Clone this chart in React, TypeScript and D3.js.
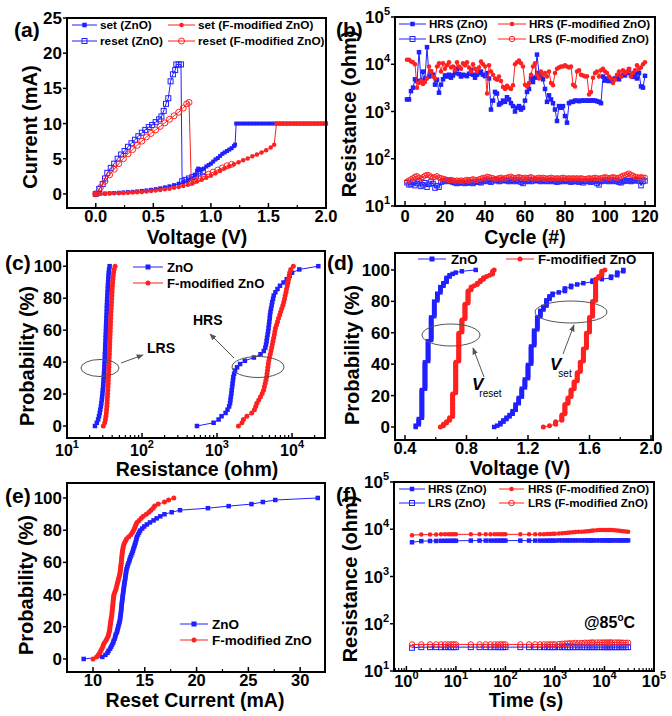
import React from 'react';
import * as d3 from 'd3';

const BLUE = '#2020ff';
const RED = '#ff2020';
const GRAY = '#555';
const FF = "'Liberation Sans', Arial, Helvetica, sans-serif";

type P = [number, number];
type Sc = (v: number) => number;

// ---------------- (a) I-V curves [V, mA] ----------------
const setZnO: P[] = [
  [0, 0], [0.04, 0.03], [0.08, 0.06], [0.12, 0.1], [0.16, 0.13], [0.2, 0.17], [0.24, 0.21], [0.28, 0.25], [0.32, 0.3], [0.36, 0.36],
  [0.4, 0.43], [0.44, 0.5], [0.48, 0.58], [0.52, 0.68], [0.56, 0.8], [0.6, 0.93], [0.64, 1.08], [0.68, 1.25], [0.72, 1.45], [0.76, 1.65],
  [0.8, 1.9], [0.83, 2.2], [0.86, 2.7], [0.88, 3.3], [0.89, 3.6], [0.9, 3.4], [0.92, 3.5], [0.94, 3.6], [0.96, 3.9], [0.98, 4.1],
  [1.0, 4.3], [1.02, 4.6], [1.04, 4.9], [1.06, 5.1], [1.08, 5.4], [1.1, 5.7], [1.12, 5.9], [1.14, 6.1], [1.16, 6.3], [1.18, 6.5],
  [1.2, 6.8], [1.21, 7.0], [1.22, 10], [1.25, 10], [1.28, 10], [1.31, 10], [1.34, 10], [1.37, 10], [1.4, 10], [1.43, 10],
  [1.46, 10], [1.49, 10], [1.52, 10], [1.55, 10], [1.58, 10], [1.61, 10], [1.64, 10], [1.67, 10], [1.7, 10], [1.73, 10],
  [1.76, 10], [1.79, 10], [1.82, 10], [1.85, 10], [1.88, 10], [1.91, 10], [1.94, 10], [1.97, 10], [2.0, 10],
];
const resetZnO: P[] = [
  [0, 0], [0.03, 0.7], [0.06, 1.4], [0.08, 2.2], [0.1, 3.0], [0.13, 3.7], [0.16, 4.3], [0.19, 5.0], [0.22, 5.6], [0.25, 6.1],
  [0.28, 6.7], [0.31, 7.2], [0.34, 7.7], [0.37, 8.2], [0.4, 8.7], [0.43, 9.1], [0.46, 9.5], [0.49, 9.8], [0.52, 10.2], [0.55, 10.6],
  [0.57, 11.0], [0.59, 11.8], [0.61, 12.8], [0.63, 13.6], [0.65, 16.0], [0.67, 17.0], [0.69, 17.6], [0.7, 18.4], [0.72, 18.4], [0.74, 18.4],
  [0.75, 1.8], [0.78, 2.0], [0.81, 2.2], [0.84, 2.4], [0.87, 2.6], [0.9, 2.9], [0.93, 3.1],
];
const setF: P[] = [
  [0, 0], [0.04, 0.02], [0.08, 0.04], [0.12, 0.06], [0.16, 0.08], [0.2, 0.1], [0.24, 0.13], [0.28, 0.16], [0.32, 0.2], [0.36, 0.24],
  [0.4, 0.29], [0.44, 0.35], [0.48, 0.41], [0.52, 0.48], [0.56, 0.56], [0.6, 0.65], [0.64, 0.75], [0.68, 0.86], [0.72, 0.98], [0.76, 1.12],
  [0.8, 1.3], [0.84, 1.5], [0.88, 1.75], [0.92, 2.0], [0.96, 2.3], [1.0, 2.6], [1.04, 2.95], [1.08, 3.3], [1.12, 3.65], [1.16, 3.95],
  [1.2, 4.2], [1.24, 4.5], [1.28, 4.8], [1.32, 5.05], [1.36, 5.35], [1.4, 5.6], [1.44, 5.9], [1.48, 6.2], [1.52, 6.6], [1.55, 7.0],
  [1.57, 10], [1.6, 10], [1.63, 10], [1.66, 10], [1.69, 10], [1.72, 10], [1.75, 10], [1.78, 10], [1.81, 10], [1.84, 10],
  [1.87, 10], [1.9, 10], [1.93, 10], [1.96, 10], [2.0, 10],
];
const resetF: P[] = [
  [0, 0], [0.04, 0.9], [0.08, 1.8], [0.12, 2.7], [0.16, 3.5], [0.2, 4.3], [0.24, 5.0], [0.28, 5.7], [0.32, 6.3], [0.36, 6.9],
  [0.4, 7.5], [0.44, 8.1], [0.48, 8.6], [0.52, 9.1], [0.56, 9.6], [0.6, 10.1], [0.64, 10.6], [0.68, 11.1], [0.72, 11.6], [0.76, 12.2],
  [0.79, 12.8], [0.81, 13.0], [0.83, 1.6], [0.86, 1.9], [0.9, 2.2], [0.94, 2.5], [0.98, 2.8], [1.02, 3.1], [1.06, 3.4], [1.1, 3.7],
  [1.14, 4.0], [1.18, 4.2],
];

// ---------------- (b) endurance, cycles 1..120 (ohm) ----------------
const cycles = d3.range(1, 121);
const hrsZnO = [
  1800, 1800, 2700, 3200, 4800, 4400, 18000, 4500, 7000, 5000,
  23000, 5500, 7000, 6000, 3700, 4700, 2500, 3700, 4800, 5800,
  5500, 6000, 5200, 5800, 6500, 8000, 6200, 5500, 6000, 5800,
  5600, 6300, 7500, 6000, 5200, 6000, 6500, 7000, 6000, 5600,
  6500, 5000, 1100, 1700, 2600, 2400, 1400, 1500, 1700, 1600,
  2000, 1800, 1500, 1300, 1000, 1200, 1300, 1100, 1200, 1700,
  2600, 3000, 5000, 4200, 5200, 16000, 6500, 5500, 4800, 3000,
  1600, 2200, 1800, 1500, 1100, 630, 1300, 1200, 1300, 800,
  580, 1500, 1600, 1600, 1700, 1700, 1650, 1700, 1700, 1700,
  1700, 1700, 1700, 1720, 1700, 1650, 1600, 1500, 5500, 4500,
  5000, 4400, 4800, 4600, 5000, 5200, 4800, 5600, 6000, 5800,
  6500, 7700, 5800, 5400, 6200, 5000, 6500, 3400, 3200, 5700,
];
const hrsF = [
  12500, 12500, 11500, 11000, 10000, 3200, 4000, 4500, 3800, 4200,
  5000, 9000, 7000, 5500, 5000, 9000, 10500, 7000, 10500, 8000,
  9500, 11000, 8500, 9000, 7500, 11000, 9000, 8000, 10500, 9500,
  11000, 8500, 7000, 10000, 8000, 7000, 8500, 11500, 10000, 9000,
  2400, 9500, 7000, 6000, 5000, 4700, 5500, 4400, 3300, 3000,
  3500, 3200, 3000, 3600, 10000, 11000, 12000, 10500, 9000, 3700,
  3400, 4000, 6000, 9000, 10500, 6000, 5000, 7000, 6000, 6500,
  5500, 7000, 4000, 3600, 6500, 8000, 8500, 9000, 9000, 9500,
  9000, 8500, 9000, 3700, 3400, 7000, 7500, 6000, 5800, 5500,
  5600, 2300, 2600, 5200, 6500, 7000, 5500, 7500, 8000, 7000,
  6500, 5500, 5000, 4000, 4700, 6000, 7000, 5500, 7500, 6500,
  7000, 8000, 5500, 6500, 7500, 9500, 8000, 8500, 10000, 11000,
];
const lrsZnO = [
  31, 28, 29, 32, 27, 30, 34, 26, 28, 31,
  25, 29, 33, 30, 24, 27, 25, 32, 34, 33,
  35, 34, 33, 32, 31, 30, 31, 32, 31, 30,
  31, 32, 31, 30, 32, 33, 32, 31, 33, 34,
  35, 33, 32, 34, 36, 35, 33, 34, 36, 35,
  34, 33, 35, 34, 33, 35, 34, 32, 30, 33,
  34, 35, 33, 34, 36, 35, 34, 33, 35, 34,
  33, 34, 35, 33, 34, 32, 33, 34, 33, 35,
  34, 33, 32, 33, 34, 33, 32, 33, 31, 33,
  34, 33, 32, 33, 34, 30, 28, 33, 34, 35,
  34, 33, 35, 34, 33, 34, 32, 31, 33, 34,
  35, 34, 33, 35, 34, 36, 34, 27, 33, 34,
];
const lrsF = [
  33, 35, 37, 39, 42, 43, 40, 38, 41, 44,
  46, 45, 42, 40, 41, 43, 40, 39, 38, 37,
  36, 35, 36, 35, 34, 35, 34, 35, 34, 35,
  36, 35, 36, 37, 36, 35, 37, 38, 40, 39,
  42, 41, 40, 39, 37, 38, 39, 40, 38, 39,
  40, 41, 42, 40, 39, 40, 41, 40, 39, 40,
  39, 40, 41, 39, 38, 39, 40, 39, 40, 39,
  38, 39, 40, 39, 38, 39, 38, 39, 40, 39,
  38, 39, 38, 39, 38, 39, 38, 39, 38, 37,
  38, 39, 38, 39, 40, 39, 38, 39, 40, 41,
  40, 39, 40, 41, 40, 39, 40, 42, 44, 45,
  47, 49, 46, 44, 42, 41, 40, 41, 40, 40,
];

// ---------------- (c) resistance distribution (sorted, ohm) ----------------
const cLrsZnO = [
  23.6, 25.0, 26.0, 26.7, 27.3, 27.8, 28.3, 28.7, 29.1, 29.4, 29.7, 30.0, 30.3, 30.5, 30.7, 30.9, 31.1, 31.3, 31.5, 31.6,
  31.8, 31.9, 32.0, 32.2, 32.3, 32.4, 32.6, 32.7, 32.8, 33.0, 33.1, 33.2, 33.4, 33.5, 33.6, 33.8, 33.9, 34.0, 34.2, 34.3,
  34.5, 34.7, 34.9, 35.1, 35.3, 35.5, 35.7, 36.0, 36.4, 37.0,
];
const cLrsF = [
  30.5, 31.8, 32.5, 33.0, 33.4, 33.7, 34.0, 34.2, 34.4, 34.6, 34.8, 35.0, 35.2, 35.4, 35.5, 35.7, 35.8, 36.0, 36.1, 36.3,
  36.4, 36.5, 36.7, 36.8, 37.0, 37.1, 37.2, 37.4, 37.5, 37.7, 37.8, 38.0, 38.1, 38.3, 38.4, 38.6, 38.8, 39.0, 39.2, 39.4,
  39.6, 39.8, 40.0, 40.3, 40.6, 40.9, 41.3, 41.8, 42.5, 43.7,
];
const cHrsZnO = [
  540, 900, 1050, 1150, 1300, 1380, 1450, 1490, 1510, 1530, 1555, 1570, 1590, 1610, 1630, 1650, 1690, 1740, 1850, 2030,
  2350, 3100, 3800, 4200, 4400, 4500, 4580, 4640, 4720, 4800, 4860, 4920, 4980, 5040, 5080, 5150, 5250, 5350, 5450, 5580,
  5700, 6000, 6400, 6900, 7700, 8500, 9300, 10000, 12500, 22400,
];
const cHrsF = [
  1930, 2150, 2250, 2500, 2900, 3150, 3280, 3400, 3600, 3800, 4000, 4170, 4280, 4380, 4480, 4580, 4640, 4700, 4760, 4820,
  4900, 5000, 5120, 5240, 5350, 5450, 5560, 5680, 5800, 5900, 6000, 6200, 6400, 6600, 6850, 7050, 7300, 7550, 7750, 7950,
  8100, 8300, 8450, 8650, 8850, 9000, 9150, 9300, 9600, 10400,
];

// ---------------- (d) switching voltages: [V, number of cycles] ----------------
const vResetZnO: P[] = [[0.47, 2], [0.49, 5], [0.51, 22], [0.53, 21], [0.55, 16], [0.57, 18], [0.59, 12], [0.61, 6], [0.63, 5], [0.65, 3], [0.67, 4], [0.69, 2], [0.71, 1], [0.73, 1], [0.77, 1], [0.86, 1]];
const vResetF: P[] = [[0.63, 1], [0.65, 2], [0.67, 2], [0.69, 3], [0.71, 18], [0.73, 24], [0.75, 22], [0.77, 10], [0.79, 12], [0.81, 10], [0.83, 3], [0.85, 1], [0.87, 2], [0.89, 2], [0.91, 2], [0.93, 1], [0.95, 1], [0.97, 3], [0.98, 1]];
const vSetZnO: P[] = [[0.98, 1], [1.0, 1], [1.02, 2], [1.04, 2], [1.06, 2], [1.08, 2], [1.1, 3], [1.12, 5], [1.14, 5], [1.16, 7], [1.18, 7], [1.2, 11], [1.22, 14], [1.24, 12], [1.26, 10], [1.28, 5], [1.3, 3], [1.32, 5], [1.34, 3], [1.36, 2], [1.4, 1], [1.44, 3], [1.48, 2], [1.52, 1], [1.56, 1], [1.62, 2], [1.68, 1], [1.74, 2], [1.78, 3], [1.82, 2]];
const vSetF: P[] = [[1.3, 1], [1.34, 1], [1.38, 3], [1.42, 5], [1.44, 8], [1.46, 5], [1.48, 6], [1.5, 6], [1.52, 7], [1.54, 8], [1.56, 10], [1.58, 12], [1.6, 12], [1.62, 12], [1.64, 17], [1.66, 2], [1.68, 4], [1.7, 1]];

// ---------------- (e) reset current (sorted, mA) ----------------
const iResetZnO = [
  9.1, 10.9, 11.2, 11.4, 11.5, 11.65, 11.75, 11.85, 11.95, 12.0, 12.1, 12.15, 12.2, 12.3, 12.35, 12.4, 12.45, 12.5, 12.55, 12.6,
  12.62, 12.65, 12.68, 12.7, 12.72, 12.74, 12.76, 12.78, 12.8, 12.83, 12.85, 12.87, 12.9, 12.92, 12.95, 12.98, 13.0, 13.03, 13.06, 13.1,
  13.12, 13.15, 13.18, 13.2, 13.24, 13.3, 13.35, 13.42, 13.5, 13.55, 13.62, 13.7, 13.78, 13.85, 13.9, 13.97, 14.03, 14.1, 14.15, 14.2,
  14.25, 14.35, 14.45, 14.55, 14.75, 14.95, 15.2, 15.5, 15.85, 16.15, 16.5, 16.9, 17.6, 18.4, 21.1, 23.1, 25.3, 26.4, 27.6, 31.7,
];
const iResetF = [
  10.0, 10.35, 10.5, 10.65, 10.75, 10.85, 10.95, 11.0, 11.1, 11.25, 11.35, 11.45, 11.5, 11.55, 11.6, 11.62, 11.65, 11.68, 11.7, 11.73,
  11.76, 11.8, 11.82, 11.84, 11.86, 11.88, 11.9, 11.92, 11.94, 11.96, 11.98, 12.0, 12.05, 12.12, 12.2, 12.25, 12.3, 12.35, 12.4, 12.45,
  12.5, 12.55, 12.6, 12.63, 12.65, 12.67, 12.7, 12.72, 12.74, 12.76, 12.78, 12.8, 12.82, 12.85, 12.88, 12.92, 12.97, 13.05, 13.15, 13.25,
  13.45, 13.65, 13.8, 13.9, 14.0, 14.08, 14.15, 14.25, 14.45, 14.65, 14.85, 15.15, 15.4, 15.6, 15.8, 15.95, 16.3, 16.9, 17.3, 17.8,
];

// ---------------- (f) retention @85C ----------------
const times = [
  1.3, 2, 3, 4, 5, 6, 7, 8, 9, 10,
  20, 30, 40, 50, 60, 70, 80, 90, 100,
  200, 300, 400, 500, 600, 700, 800, 900, 1000,
  1200, 1400, 1600, 1800, 2000, 2300, 2600, 3000, 3500, 4000,
  4500, 5000, 5500, 6000, 7000, 8000, 9000, 10000, 11000, 12000,
  13000, 14000, 16000, 18000, 20000, 22000, 24000, 27000, 30000,
];
const retHrsZnO = [
  5300, 5600, 5650, 5650, 5700, 5700, 5700, 5700, 5700, 5700,
  5750, 5750, 5750, 5750, 5750, 5750, 5750, 5750, 5750,
  5750, 5750, 5750, 5750, 5750, 5750, 5750, 5750, 5750,
  5800, 5800, 5800, 5800, 5800, 5800, 5800, 5800, 5800, 5800,
  5800, 5800, 5800, 5800, 5800, 5800, 5800, 5800, 5800, 5800,
  5800, 5800, 5800, 5800, 5800, 5800, 5800, 5800, 5800,
];
const retHrsF = [
  7500, 7700, 7700, 7700, 7800, 7800, 7800, 7800, 7800, 7800,
  7800, 7800, 7800, 7800, 7800, 7800, 7800, 7800, 7800,
  7800, 7800, 7800, 7800, 7800, 7900, 7900, 8000, 8000,
  8100, 8200, 8300, 8400, 8500, 8600, 8700, 8800, 8900, 9000,
  9100, 9200, 9300, 9400, 9500, 9600, 9700, 9700, 9700, 9700,
  9600, 9600, 9500, 9400, 9300, 9200, 9100, 9000, 8900,
];
const retLrsZnO = [
  31, 32, 32, 32, 32, 32, 32, 32, 32, 32,
  32, 32, 32, 32, 32, 32, 32, 32, 32,
  32, 32, 32, 32, 32, 32, 32, 32, 32,
  32, 32, 32, 32, 32, 32, 32, 32, 32, 32,
  32, 32, 32, 32, 32, 32, 32, 32, 32, 32,
  32, 32, 32, 32, 32, 32, 32, 32, 32,
];
const retLrsF = [
  36.5, 36.5, 36.5, 36.5, 36.5, 36.5, 36.5, 36.5, 36.5, 36.5,
  36.5, 36.5, 36.5, 36.5, 36.5, 36.5, 36.5, 36.5, 36.5,
  36.5, 36.5, 36.5, 36.5, 36.5, 36.5, 36.5, 36.5, 36.5,
  37, 37.5, 38, 38, 38.5, 38.5, 39, 39, 39, 39.5,
  39.5, 39.5, 40, 40, 40, 40, 40, 40, 40, 40,
  40, 40, 40, 40, 40, 39.5, 39.5, 39.5, 39.5,
];

// ---------------- helpers ----------------
const zipXY = (xs: number[], ys: number[]): P[] => xs.map((x, i) => [x, ys[i]] as P);
const cdf = (vals: number[]): P[] => vals.map((v, i) => [v, (i / (vals.length - 1)) * 100] as P);
const expand = (rl: P[]): number[] => rl.flatMap(([v, n]) => Array(n).fill(v));

function Marker({ k, x, y, c, s }: { k: string; x: number; y: number; c: string; s: number }) {
  if (k === 'sq') return <rect x={x - s / 2} y={y - s / 2} width={s} height={s} fill={c} />;
  if (k === 'osq') return <rect x={x - s / 2} y={y - s / 2} width={s} height={s} fill="none" stroke={c} strokeWidth={1} />;
  if (k === 'ci') return <circle cx={x} cy={y} r={s / 2} fill={c} />;
  return <circle cx={x} cy={y} r={s / 2} fill="none" stroke={c} strokeWidth={1} />;
}

function Series({ pts, xs, ys, c, k, s }: { pts: P[]; xs: Sc; ys: Sc; c: string; k: string; s: number }) {
  const line = d3.line<P>().x((d) => xs(d[0])).y((d) => ys(d[1]));
  return (
    <g>
      <path d={line(pts) || ''} fill="none" stroke={c} strokeWidth={1} />
      {pts.map((p, i) => (
        <Marker key={i} k={k} x={xs(p[0])} y={ys(p[1])} c={c} s={s} />
      ))}
    </g>
  );
}

function Frame({ x0, x1, y0, y1 }: { x0: number; x1: number; y0: number; y1: number }) {
  return <rect x={x0} y={y0} width={x1 - x0} height={y1 - y0} fill="none" stroke="#000" strokeWidth={2} />;
}

function sup10(e: number) {
  return (
    <>
      10<tspan dy={-8} fontSize={11}>{e}</tspan>
    </>
  );
}

function XAxis({ xs, y, major, minor, label, ly, fs = 17 }: { xs: Sc; y: number; major: number[]; minor: number[]; label: (v: number) => any; ly: number; fs?: number }) {
  return (
    <g>
      {major.map((t, i) => (
        <line key={'M' + i} x1={xs(t)} x2={xs(t)} y1={y} y2={y - 5} stroke="#000" strokeWidth={1.5} />
      ))}
      {minor.map((t, i) => (
        <line key={'m' + i} x1={xs(t)} x2={xs(t)} y1={y} y2={y - 3} stroke="#000" strokeWidth={1.2} />
      ))}
      {major.map((t, i) => (
        <text key={'L' + i} x={xs(t)} y={ly} textAnchor="middle" fontSize={fs} fontWeight="bold">
          {label(t)}
        </text>
      ))}
    </g>
  );
}

function YAxis({ ys, x, major, label }: { ys: Sc; x: number; major: number[]; label: (v: number) => any }) {
  return (
    <g>
      {major.map((t, i) => (
        <line key={'M' + i} x1={x} x2={x - 4} y1={ys(t)} y2={ys(t)} stroke="#000" strokeWidth={1.5} />
      ))}
      {major.map((t, i) => (
        <text key={'L' + i} x={x - 5} y={ys(t) + 6} textAnchor="end" fontSize={17} fontWeight="bold">
          {label(t)}
        </text>
      ))}
    </g>
  );
}

function YTitle({ x, y, text }: { x: number; y: number; text: string }) {
  return (
    <text transform={`translate(${x},${y}) rotate(-90)`} textAnchor="middle" dy="0.36em" fontSize={20} fontWeight="bold">
      {text}
    </text>
  );
}

function XTitle({ x, y, text }: { x: number; y: number; text: string }) {
  return (
    <text x={x} y={y} textAnchor="middle" fontSize={19.5} fontWeight="bold">
      {text}
    </text>
  );
}

function LegendItem({ x1, x2, tx, y, c, k, s, text, fs }: { x1: number; x2: number; tx: number; y: number; c: string; k: string; s: number; text: string; fs: number }) {
  return (
    <g>
      <line x1={x1} x2={x2} y1={y} y2={y} stroke={c} strokeWidth={1} />
      <Marker k={k} x={(x1 + x2) / 2} y={y} c={c} s={s} />
      <text x={tx} y={y + fs * 0.36} fontSize={fs} fontWeight="bold">
        {text}
      </text>
    </g>
  );
}

function PanelLabel({ x, y, t }: { x: number; y: number; t: string }) {
  return (
    <text x={x} y={y} fontSize={21} fontWeight="bold">
      {t}
    </text>
  );
}

function logMinor(lo: number, hi: number): number[] {
  const out: number[] = [];
  for (let e = Math.floor(Math.log10(lo)); e <= Math.ceil(Math.log10(hi)); e++) {
    for (let m = 2; m <= 9; m++) {
      const v = m * Math.pow(10, e);
      if (v > lo && v < hi) out.push(v);
    }
  }
  return out;
}

export default function App() {
  // scales
  const ax = d3.scaleLinear().domain([-0.25, 2.0]).range([67, 326]);
  const ay = d3.scaleLinear().domain([-2, 25]).range([208, 18]);

  const bx = d3.scaleLinear().domain([-5, 125]).range([395, 655]);
  const by = d3.scaleLog().domain([10, 1e5]).range([206, 17]);

  const cx = d3.scaleLog().domain([10, 27500]).range([67, 325]);
  const cy = d3.scaleLinear().domain([-7.5, 109.5]).range([438, 251]);

  const dx = d3.scaleLinear().domain([0.335, 2.013]).range([395, 653]);
  const dy = d3.scaleLinear().domain([-8.3, 110.8]).range([440, 253]);

  const ex = d3.scaleLinear().domain([7.49, 32.4]).range([67, 325]);
  const ey = d3.scaleLinear().domain([-8.1, 109.3]).range([672, 483]);

  const fx = d3.scaleLog().domain([Math.pow(10, -0.25), 1e5]).range([394, 654]);
  const fy = d3.scaleLog().domain([10, 1e5]).range([671, 482]);

  const pct = [0, 20, 40, 60, 80, 100];
  const lg = (v: number) => sup10(Math.round(Math.log10(v)));

  return (
    <svg
      width={672}
      height={716}
      viewBox="0 0 672 716"
      style={{ position: 'absolute', left: 0, top: 0, background: '#fff', fontFamily: FF }}
    >
      <defs>
        <marker id="ah" viewBox="0 0 10 10" refX="9" refY="5" markerWidth="7" markerHeight="7" orient="auto-start-reverse">
          <path d="M0,1 L10,5 L0,9 z" fill={GRAY} />
        </marker>
      </defs>
      <rect x={0} y={0} width={672} height={716} fill="#fff" />

      {/* ================= (a) ================= */}
      <g>
        <Series pts={setZnO} xs={ax} ys={ay} c={BLUE} k="sq" s={4} />
        <Series pts={resetZnO} xs={ax} ys={ay} c={BLUE} k="osq" s={5} />
        <Series pts={setF} xs={ax} ys={ay} c={RED} k="ci" s={4.5} />
        <Series pts={resetF} xs={ax} ys={ay} c={RED} k="oci" s={6} />
        <Frame x0={67} x1={326} y0={18} y1={208} />
        <XAxis xs={ax} y={208} major={[0, 0.5, 1, 1.5, 2]} minor={[0.25, 0.75, 1.25, 1.75]} label={(v) => v.toFixed(1)} ly={222} fs={16.5} />
        <YAxis ys={ay} x={67} major={[0, 5, 10, 15, 20, 25]} label={(v) => String(v)} />
        <LegendItem x1={72} x2={97} tx={100} y={25} c={BLUE} k="sq" s={4.5} text="set (ZnO)" fs={11.8} />
        <LegendItem x1={72} x2={97} tx={100} y={41} c={BLUE} k="osq" s={5} text="reset (ZnO)" fs={11.8} />
        <LegendItem x1={168} x2={195} tx={198} y={25} c={RED} k="ci" s={4.5} text="set (F-modified ZnO)" fs={11.8} />
        <LegendItem x1={168} x2={195} tx={198} y={41} c={RED} k="oci" s={6} text="reset (F-modified ZnO)" fs={11.8} />
        <YTitle x={30} y={127} text="Current (mA)" />
        <XTitle x={197} y={244} text="Voltage (V)" />
        <PanelLabel x={14} y={37} t="(a)" />
      </g>

      {/* ================= (b) ================= */}
      <g>
        <Series pts={zipXY(cycles, hrsZnO)} xs={bx} ys={by} c={BLUE} k="sq" s={4.5} />
        <Series pts={zipXY(cycles, hrsF)} xs={bx} ys={by} c={RED} k="ci" s={4.5} />
        <Series pts={zipXY(cycles, lrsZnO)} xs={bx} ys={by} c={BLUE} k="osq" s={4.5} />
        <Series pts={zipXY(cycles, lrsF)} xs={bx} ys={by} c={RED} k="oci" s={5} />
        <Frame x0={395} x1={655} y0={17} y1={206} />
        <XAxis xs={bx} y={206} major={[0, 20, 40, 60, 80, 100, 120]} minor={[10, 30, 50, 70, 90, 110]} label={(v) => String(v)} ly={222} fs={16.5} />
        <YAxis ys={by} x={395} major={[10, 100, 1000, 10000, 100000]} label={lg} />
        <LegendItem x1={399} x2={426} tx={429} y={24} c={BLUE} k="sq" s={4.5} text="HRS (ZnO)" fs={11.6} />
        <LegendItem x1={399} x2={426} tx={429} y={39} c={BLUE} k="osq" s={5} text="LRS (ZnO)" fs={11.6} />
        <LegendItem x1={498} x2={526} tx={529} y={24} c={RED} k="ci" s={4.5} text="HRS (F-modified ZnO)" fs={11.6} />
        <LegendItem x1={498} x2={526} tx={529} y={39} c={RED} k="oci" s={5.5} text="LRS (F-modified ZnO)" fs={11.6} />
        <YTitle x={349} y={114} text="Resistance (ohm)" />
        <XTitle x={525} y={244} text="Cycle (#)" />
        <PanelLabel x={336} y={37} t="(b)" />
      </g>

      {/* ================= (c) ================= */}
      <g>
        <Series pts={cdf(cLrsZnO)} xs={cx} ys={cy} c={BLUE} k="sq" s={4.5} />
        <Series pts={cdf(cHrsZnO)} xs={cx} ys={cy} c={BLUE} k="sq" s={4.5} />
        <Series pts={cdf(cLrsF)} xs={cx} ys={cy} c={RED} k="ci" s={5} />
        <Series pts={cdf(cHrsF)} xs={cx} ys={cy} c={RED} k="ci" s={5} />
        <Frame x0={67} x1={325} y0={251} y1={438} />
        <XAxis xs={cx} y={438} major={[10, 100, 1000, 10000]} minor={logMinor(10, 27500)} label={lg} ly={456} fs={16} />
        <YAxis ys={cy} x={67} major={pct} label={(v) => String(v)} />
        <LegendItem x1={133} x2={163} tx={167} y={267} c={BLUE} k="sq" s={5} text="ZnO" fs={13.2} />
        <LegendItem x1={133} x2={163} tx={167} y={283} c={RED} k="ci" s={5} text="F-modified ZnO" fs={13.2} />
        <ellipse cx={100} cy={368} rx={19} ry={8.5} fill="none" stroke={GRAY} strokeWidth={1} />
        <line x1={121} y1={363} x2={143} y2={355} stroke={GRAY} strokeWidth={1} markerEnd="url(#ah)" />
        <text x={147} y={353} fontSize={14} fontWeight="bold">LRS</text>
        <ellipse cx={258} cy={367} rx={26} ry={10.5} fill="none" stroke={GRAY} strokeWidth={1} />
        <line x1={234} y1={358} x2={210} y2={334} stroke={GRAY} strokeWidth={1} markerEnd="url(#ah)" />
        <text x={193} y={325} fontSize={14} fontWeight="bold">HRS</text>
        <YTitle x={27} y={356} text="Probability (%)" />
        <XTitle x={197} y={476} text="Resistance (ohm)" />
        <PanelLabel x={5} y={270} t="(c)" />
      </g>

      {/* ================= (d) ================= */}
      <g>
        <Series pts={cdf(expand(vResetZnO))} xs={dx} ys={dy} c={BLUE} k="sq" s={4.5} />
        <Series pts={cdf(expand(vSetZnO))} xs={dx} ys={dy} c={BLUE} k="sq" s={4.5} />
        <Series pts={cdf(expand(vResetF))} xs={dx} ys={dy} c={RED} k="ci" s={5} />
        <Series pts={cdf(expand(vSetF))} xs={dx} ys={dy} c={RED} k="ci" s={5} />
        <Frame x0={395} x1={653} y0={253} y1={440} />
        <XAxis xs={dx} y={440} major={[0.4, 0.8, 1.2, 1.6, 2.0]} minor={[0.6, 1.0, 1.4, 1.8]} label={(v) => v.toFixed(1)} ly={454} fs={16.5} />
        <YAxis ys={dy} x={395} major={pct} label={(v) => String(v)} />
        <LegendItem x1={418} x2={446} tx={451} y={259} c={BLUE} k="sq" s={5} text="ZnO" fs={13.3} />
        <LegendItem x1={506} x2={534} tx={538} y={259} c={RED} k="ci" s={5} text="F-modified ZnO" fs={13.3} />
        <ellipse cx={451} cy={335} rx={29} ry={11} fill="none" stroke={GRAY} strokeWidth={1} />
        <line x1={484} y1={377} x2={473} y2={348} stroke={GRAY} strokeWidth={1} markerEnd="url(#ah)" />
        <text x={472} y={390} fontSize={17} fontWeight="bold" fontStyle="italic">
          V<tspan dx={-4} dy={7} fontSize={10} fontWeight="normal" fontStyle="normal">reset</tspan>
        </text>
        <ellipse cx={571} cy={312} rx={36} ry={11} fill="none" stroke={GRAY} strokeWidth={1} />
        <line x1={563} y1={354} x2={574} y2={325} stroke={GRAY} strokeWidth={1} markerEnd="url(#ah)" />
        <text x={550} y={370} fontSize={17} fontWeight="bold" fontStyle="italic">
          V<tspan dx={-3} dy={7} fontSize={10} fontWeight="normal" fontStyle="normal">set</tspan>
        </text>
        <YTitle x={352} y={355} text="Probability (%)" />
        <XTitle x={520} y={475} text="Voltage (V)" />
        <PanelLabel x={327} y={270} t="(d)" />
      </g>

      {/* ================= (e) ================= */}
      <g>
        <Series pts={cdf(iResetZnO)} xs={ex} ys={ey} c={BLUE} k="sq" s={4.5} />
        <Series pts={cdf(iResetF)} xs={ex} ys={ey} c={RED} k="ci" s={5} />
        <Frame x0={67} x1={325} y0={483} y1={672} />
        <XAxis xs={ex} y={672} major={[10, 15, 20, 25, 30]} minor={[12.5, 17.5, 22.5, 27.5]} label={(v) => String(v)} ly={686} fs={16.5} />
        <YAxis ys={ey} x={67} major={pct} label={(v) => String(v)} />
        <LegendItem x1={180} x2={208} tx={212} y={624} c={BLUE} k="sq" s={5} text="ZnO" fs={13.5} />
        <LegendItem x1={180} x2={208} tx={212} y={640} c={RED} k="ci" s={5} text="F-modified ZnO" fs={13.5} />
        <YTitle x={26} y={585} text="Probability (%)" />
        <XTitle x={195} y={707} text="Reset Current (mA)" />
        <PanelLabel x={5} y={503} t="(e)" />
      </g>

      {/* ================= (f) ================= */}
      <g>
        <Series pts={zipXY(times, retHrsZnO)} xs={fx} ys={fy} c={BLUE} k="sq" s={4.5} />
        <Series pts={zipXY(times, retHrsF)} xs={fx} ys={fy} c={RED} k="ci" s={4.5} />
        <Series pts={zipXY(times, retLrsZnO)} xs={fx} ys={fy} c={BLUE} k="osq" s={5} />
        <Series pts={zipXY(times, retLrsF)} xs={fx} ys={fy} c={RED} k="oci" s={5.5} />
        <Frame x0={394} x1={654} y0={482} y1={671} />
        <XAxis xs={fx} y={671} major={[1, 10, 100, 1000, 10000, 100000]} minor={logMinor(Math.pow(10, -0.25), 1e5)} label={lg} ly={687} fs={16.5} />
        <YAxis ys={fy} x={394} major={[10, 100, 1000, 10000, 100000]} label={lg} />
        <LegendItem x1={399} x2={425} tx={428} y={489} c={BLUE} k="sq" s={4.5} text="HRS (ZnO)" fs={11.6} />
        <LegendItem x1={399} x2={425} tx={428} y={503} c={BLUE} k="osq" s={5} text="LRS (ZnO)" fs={11.6} />
        <LegendItem x1={499} x2={524} tx={528} y={489} c={RED} k="ci" s={4.5} text="HRS (F-modified ZnO)" fs={11.6} />
        <LegendItem x1={499} x2={524} tx={528} y={503} c={RED} k="oci" s={5.5} text="LRS (F-modified ZnO)" fs={11.6} />
        <text x={584} y={628} fontSize={16} fontWeight="bold">
          @85<tspan dy={-7} fontSize={10}>o</tspan>
          <tspan dy={7}>C</tspan>
        </text>
        <YTitle x={350} y={579} text="Resistance (ohm)" />
        <XTitle x={526} y={707} text="Time (s)" />
        <PanelLabel x={336} y={502} t="(f)" />
      </g>
    </svg>
  );
}
